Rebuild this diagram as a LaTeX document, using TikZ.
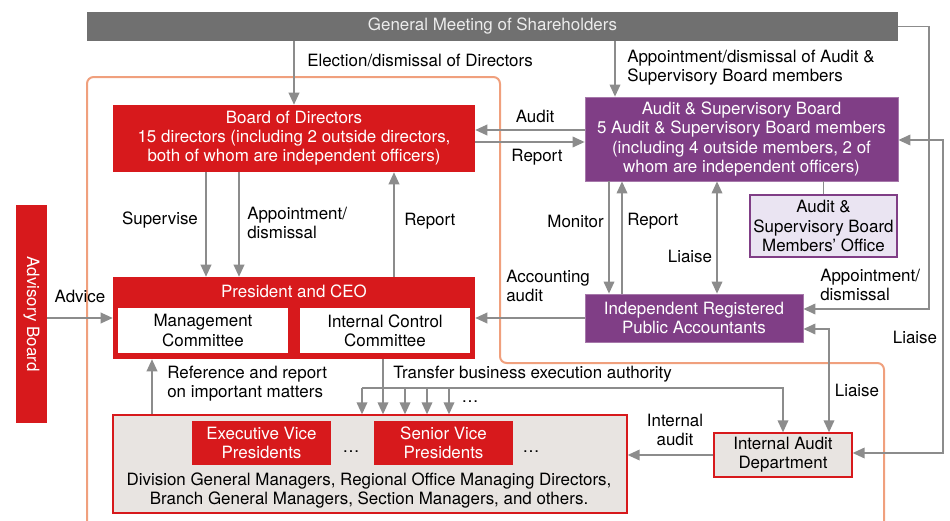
\documentclass[tikz,border=0pt]{standalone}
\usepackage{fontspec}
\setmainfont{TeX Gyre Heros}
\usetikzlibrary{arrows.meta}
\definecolor{jred}{RGB}{215,25,28}
\definecolor{jpurple}{RGB}{128,62,134}
\definecolor{jbar}{RGB}{112,112,112}
\definecolor{jgray}{RGB}{140,140,140}
\definecolor{jorange}{RGB}{240,160,125}
\definecolor{jpale}{RGB}{232,228,225}
\definecolor{jlav}{RGB}{234,228,242}
\definecolor{jlight}{RGB}{236,236,236}
\begin{document}
\begin{tikzpicture}[x=0.75pt, y=-0.75pt,
    font=\fontsize{12.7}{14.3}\selectfont,
    sz/.style 2 args={minimum width=#1*0.75pt, minimum height=#2*0.75pt},
    box/.style={inner sep=0pt, align=center, text=white},
    redbox/.style={box, fill=jred},
    purplebox/.style={box, fill=jpurple, draw=jpurple!70, line width=0.6pt},
    palebox/.style={box, fill=jpale, draw=jred, line width=1pt, text=black},
    lbl/.style={inner sep=0pt, align=left},
    link/.style={draw=jgray, line width=1.1pt},
    arr/.style={link, -{Triangle[length=9pt,width=8pt]}},
    dbl/.style={link, {Triangle[length=9pt,width=8pt]}-{Triangle[length=9pt,width=8pt]}}]
  \useasboundingbox (0,0) rectangle (950,521);
  % scope of the company
  \draw[jorange, line width=1.5pt, rounded corners=5pt]
    (87,521) -- (87,77) -- (500,77) -- (500,363) -- (884,363) -- (884,521);
  % boxes
  \node[box, fill=jbar, text=jlight, sz={811}{29}] (gms) at (492.5,26.5) {General Meeting of Shareholders};
  \node[redbox, sz={362}{67}] (bod) at (294,138.5) {Board of Directors\\15 directors (including 2 outside directors,\\both of whom are independent officers)};
  \node[purplebox, sz={313}{84}] (asb) at (741.5,139) {Audit \& Supervisory Board\\5 Audit \& Supervisory Board members\\(including 4 outside members, 2 of\\whom are independent officers)};
  \node[box, fill=jlav, draw=jpurple, line width=1pt, text=black, sz={147}{62}] (office) at (823.5,226) {Audit \&\\Supervisory Board\\Members' Office};
  \node[redbox, sz={362}{82}] (pceo) at (294,318) {};
  \node[box] (pceotitle) at (294,291) {President and CEO};
  \node[box, fill=white, text=black, sz={170}{45}] (mgmt) at (203,330.5) {Management\\Committee};
  \node[box, fill=white, text=black, sz={170}{45}] (icc) at (385,330.5) {Internal Control\\Committee};
  \node[redbox, rotate=-90, sz={218}{31}] (adv) at (31.5,314) {Advisory Board};
  \node[purplebox, sz={218}{48}] (irpa) at (694,318) {Independent Registered\\Public Accountants};
  \node[palebox, sz={138}{44}] (iad) at (783,455) {Internal Audit\\Department};
  \node[palebox, sz={514}{98}] (exec) at (370,464) {};
  \node[redbox, sz={139}{44}] (evp) at (261.5,443) {Executive Vice\\Presidents};
  \node[redbox, sz={139}{44}] (svp) at (443.5,443) {Senior Vice\\Presidents};
  \node[lbl] (dots1) at (351,452) {\dots};
  \node[lbl] (dots2) at (531,452) {\dots};
  \node[lbl, align=center] (staff) at (369,490.5) {Division General Managers, Regional Office Managing Directors,\\Branch General Managers, Section Managers, and others.};
  % connectors
  \draw[arr] (gms.south -| bod.north) -- (bod.north);
  \draw[arr] (gms.south -| 615,0) -- (asb.north -| 615,0);
  \draw[arr] (gms.east) -- (929,26.5) -- (929,309) -- (irpa.east |- 0,309);
  \draw[dbl] (asb.east |- 0,140) -- (943,140) -- (943,453) -- (iad.east |- 0,453);
  \draw[arr] (asb.west |- 0,130) -- (bod.east |- 0,130);
  \draw[arr] (bod.east |- 0,142) -- (asb.west |- 0,142);
  \draw[link] (asb.south -| office.north) -- (office.north);
  \draw[arr] (bod.south -| 206,0) -- (pceo.north -| 206,0);
  \draw[arr] (bod.south -| 239,0) -- (pceo.north -| 239,0);
  \draw[arr] (pceo.north -| 394,0) -- (bod.south -| 394,0);
  \draw[arr] (adv.north |- 0,318) -- (pceo.west);
  \draw[arr] (asb.south -| 609,0) -- (irpa.north -| 609,0);
  \draw[arr] (irpa.north -| 622,0) -- (asb.south -| 622,0);
  \draw[dbl] (asb.south -| 717,0) -- (irpa.north -| 717,0);
  \draw[arr] (irpa.west) -- (pceo.east);
  \draw[dbl] (irpa.east |- 0,329) -- (829,329) -- (iad.north -| 829,0);
  \draw[arr] (iad.west) -- (exec.east |- iad.west);
  \draw[arr] (exec.north -| 152,0) -- (pceo.south -| 152,0);
  \draw[link] (pceo.south -| 383,0) -- (383,388);
  \draw[arr] (362,388) -- (783,388) -- (iad.north);
  \foreach \x in {362,383,405,427,449}
    \draw[arr] (\x,388) -- (exec.north -| \x,0);
  \node[lbl] (dots3) at (470,402) {\dots};
  % labels
  \node[lbl, anchor=west] (lelect) at (307,60) {Election/dismissal of Directors};
  \node[lbl, anchor=west] (lappasb) at (627,67.5) {Appointment/dismissal of Audit \&\\Supervisory Board members};
  \node[lbl] (laudit) at (535,116) {Audit};
  \node[lbl] (lrep1) at (537,157) {Report};
  \node[lbl] (lsup) at (160,220) {Supervise};
  \node[lbl, anchor=west] (lappbod) at (247,222.5) {Appointment/\\dismissal};
  \node[lbl, anchor=west] (lrep2) at (404,221) {Report};
  \node[lbl] (ladvice) at (80,296) {Advice};
  \node[lbl, anchor=east] (lmon) at (604,221) {Monitor};
  \node[lbl, anchor=west] (lrep3) at (627,221) {Report};
  \node[lbl] (lliaise1) at (690,256) {Liaise};
  \node[lbl, anchor=west] (lacc) at (506,286) {Accounting\\audit};
  \node[lbl, anchor=west] (lappirpa) at (820,285) {Appointment/\\dismissal};
  \node[lbl] (lliaise2) at (915,337) {Liaise};
  \node[lbl] (lliaise3) at (857,390) {Liaise};
  \node[lbl, align=center] (lint) at (675,430) {Internal\\audit};
  \node[lbl, anchor=west] (lref) at (167,383.5) {Reference and report\\on important matters};
  \node[lbl, anchor=west] (ltrans) at (393,374) {Transfer business execution authority};
\end{tikzpicture}
\end{document}
